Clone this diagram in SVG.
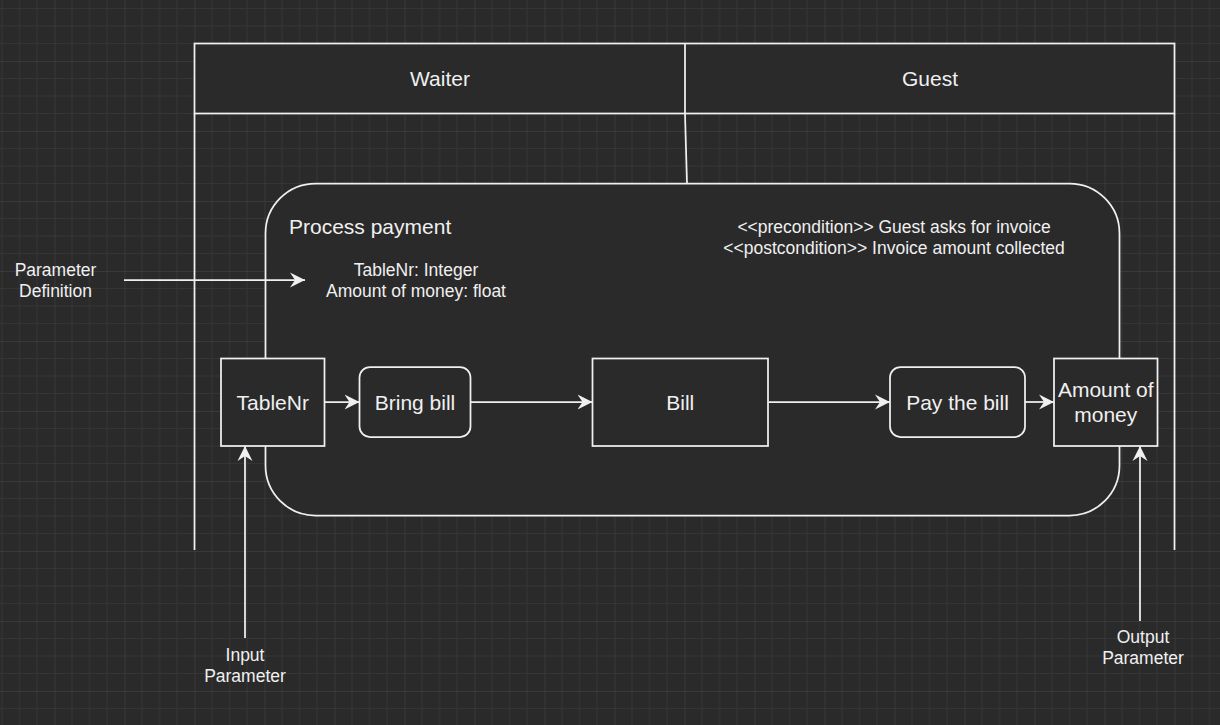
<svg xmlns="http://www.w3.org/2000/svg" width="1220" height="725" viewBox="0 0 1220 725">
  <style>
    .ln { stroke: #f0f0f0; stroke-width: 1.75; fill: none; }
    .box { stroke: #f0f0f0; stroke-width: 1.75; fill: #2a2a2a; }
    .t { font-family: "Liberation Sans", Arial, sans-serif; fill: #f0f0f0; }
    .big { font-size: 21px; }
    .sm { font-size: 17.5px; }
    .mid { text-anchor: middle; }
  </style>
  <defs>
    <pattern id="grid" x="54.5" y="61" width="70" height="70" patternUnits="userSpaceOnUse">
      <path d="M17.5 0V70M35 0V70M52.5 0V70M0 17.5H70M0 35H70M0 52.5H70" stroke="#353535" stroke-width="1" fill="none"/>
      <path d="M0 0V70M0 0H70" stroke="#474747" stroke-width="1" fill="none"/>
    </pattern>
    <marker id="arr" viewBox="0 0 16 16" refX="15" refY="8" markerWidth="16" markerHeight="16" markerUnits="userSpaceOnUse" orient="auto">
      <path d="M15 8 L0 0.5 L5 8 L0 15.5 Z" fill="#f0f0f0"/>
    </marker>
  </defs>
  <rect x="0" y="0" width="1220" height="725" fill="#2a2a2a"/>
  <rect x="0" y="0" width="1220" height="725" fill="url(#grid)"/>

  <g id="pool">
    <rect class="box" x="194.5" y="43.5" width="980" height="70"/>
    <line class="ln" x1="685" y1="43.5" x2="685" y2="113.5"/>
    <line class="ln" x1="194.5" y1="113.5" x2="194.5" y2="550"/>
    <line class="ln" x1="1174.5" y1="113.5" x2="1174.5" y2="550"/>
    <line class="ln" x1="685" y1="113.5" x2="687" y2="183.5"/>
    <text class="t big mid" x="440" y="85.5">Waiter</text>
    <text class="t big mid" x="930" y="85.5">Guest</text>
  </g>

  <g id="activity">
    <rect class="box" x="265.5" y="183.5" width="854" height="332" rx="50" ry="50"/>
    <text class="t big" x="289" y="234">Process payment</text>
    <text class="t sm mid" x="416" y="276">TableNr: Integer</text>
    <text class="t sm mid" x="416" y="297">Amount of money: float</text>
    <text class="t sm mid" x="894" y="232.5">&lt;&lt;precondition&gt;&gt; Guest asks for invoice</text>
    <text class="t sm mid" x="894" y="253.5">&lt;&lt;postcondition&gt;&gt; Invoice amount collected</text>
  </g>

  <g id="connectors">
    <line class="ln" x1="124" y1="280" x2="305" y2="280" marker-end="url(#arr)"/>
    <line class="ln" x1="324.5" y1="402" x2="359.5" y2="402" marker-end="url(#arr)"/>
    <line class="ln" x1="470.5" y1="402" x2="592.5" y2="402" marker-end="url(#arr)"/>
    <line class="ln" x1="768.5" y1="402" x2="890" y2="402" marker-end="url(#arr)"/>
    <line class="ln" x1="1025" y1="402" x2="1054" y2="402" marker-end="url(#arr)"/>
    <line class="ln" x1="245" y1="638" x2="245" y2="446" marker-end="url(#arr)"/>
    <line class="ln" x1="1140" y1="621" x2="1140" y2="446" marker-end="url(#arr)"/>
  </g>

  <g id="tablenr">
    <rect class="box" x="221" y="358.5" width="103.5" height="87.5"/>
    <text class="t big mid" x="272.75" y="409.5">TableNr</text>
  </g>
  <g id="bring-bill">
    <rect class="box" x="359.5" y="367" width="111" height="70" rx="10.5" ry="10.5"/>
    <text class="t big mid" x="415" y="409.5">Bring bill</text>
  </g>
  <g id="bill">
    <rect class="box" x="592.5" y="358.5" width="175.5" height="87.5"/>
    <text class="t big mid" x="680.25" y="409.5">Bill</text>
  </g>
  <g id="pay-bill">
    <rect class="box" x="890" y="367" width="135" height="70" rx="10.5" ry="10.5"/>
    <text class="t big mid" x="957.5" y="409.5">Pay the bill</text>
  </g>
  <g id="amount">
    <rect class="box" x="1054" y="358.5" width="103.5" height="87.5"/>
    <text class="t big mid" x="1105.75" y="397">Amount of</text>
    <text class="t big mid" x="1105.75" y="422">money</text>
  </g>

  <g id="param-def-label">
    <text class="t sm mid" x="55.5" y="276">Parameter</text>
    <text class="t sm mid" x="55.5" y="297">Definition</text>
  </g>
  <g id="input-label">
    <text class="t sm mid" x="245" y="661">Input</text>
    <text class="t sm mid" x="245" y="682">Parameter</text>
  </g>
  <g id="output-label">
    <text class="t sm mid" x="1143" y="643">Output</text>
    <text class="t sm mid" x="1143" y="664">Parameter</text>
  </g>
</svg>
